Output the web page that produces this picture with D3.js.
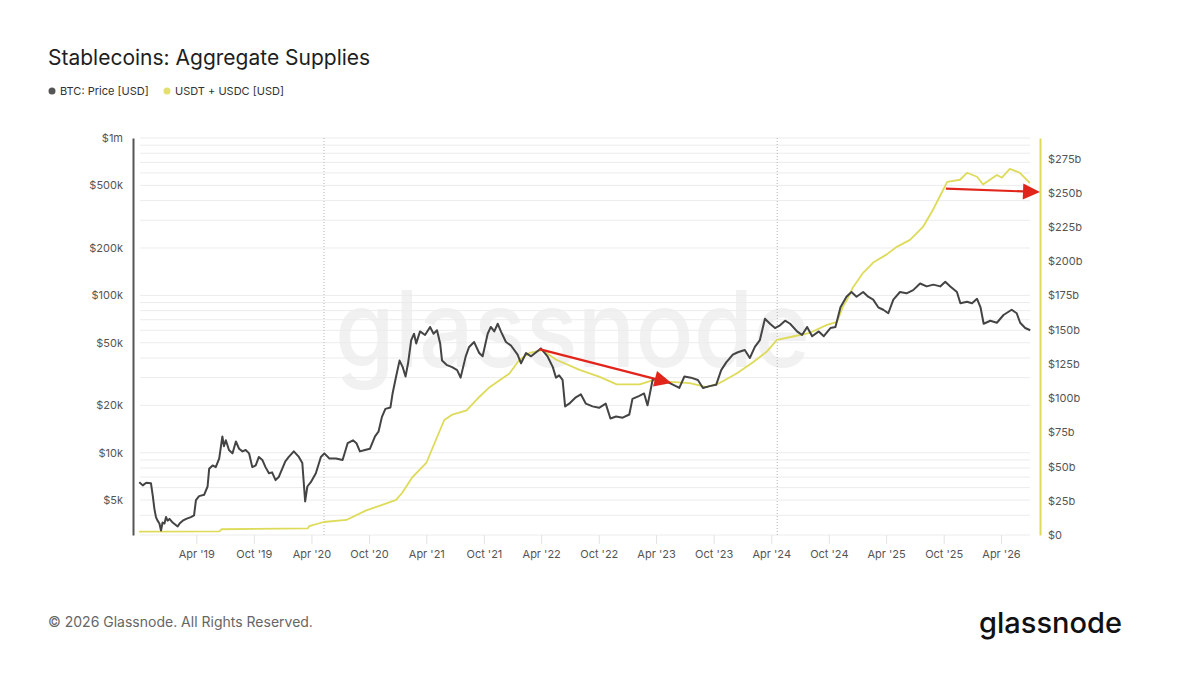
<!DOCTYPE html>
<html>
<head>
<meta charset="utf-8">
<script src="https://cdn.jsdelivr.net/npm/d3@7"></script>
<style>
    body { margin: 0; background: #fff; }
    svg text { font-family: Inter, "Open Sans", sans-serif; }
</style>
</head>
<body>
<div id="canvas"></div>
<script>
"use strict"

// BTC price [USD]
let btcDates = [
    "2018-10-02", "2018-10-13", "2018-10-24", "2018-11-08", "2018-11-14", "2018-11-19", "2018-11-24", "2018-11-29",
    "2018-12-05", "2018-12-10", "2018-12-15", "2018-12-21", "2018-12-26", "2018-12-31", "2019-01-06", "2019-01-16",
    "2019-02-01", "2019-02-07", "2019-02-17", "2019-02-28", "2019-03-15", "2019-03-25", "2019-03-31", "2019-04-10",
    "2019-04-26", "2019-05-07", "2019-05-12", "2019-05-23", "2019-06-02", "2019-06-13", "2019-06-23", "2019-06-28",
    "2019-07-04", "2019-07-14", "2019-07-25", "2019-08-05", "2019-08-15", "2019-08-26", "2019-09-05", "2019-09-16",
    "2019-09-26", "2019-10-07", "2019-10-17", "2019-10-28", "2019-11-07", "2019-11-18", "2019-11-28", "2019-12-09",
    "2019-12-19", "2019-12-30", "2020-01-09", "2020-01-20", "2020-02-05", "2020-02-21", "2020-03-03", "2020-03-12",
    "2020-03-19", "2020-03-30", "2020-04-15", "2020-05-01", "2020-05-12", "2020-05-28", "2020-06-18", "2020-07-09",
    "2020-07-25", "2020-08-11", "2020-08-22", "2020-09-02", "2020-09-18", "2020-10-04", "2020-10-20", "2020-10-31",
    "2020-11-11", "2020-11-22", "2020-12-08", "2020-12-15", "2020-12-26", "2021-01-06", "2021-01-16", "2021-01-25",
    "2021-02-02", "2021-02-12", "2021-02-21", "2021-02-28", "2021-03-12", "2021-03-28", "2021-04-13", "2021-04-24",
    "2021-05-05", "2021-05-15", "2021-05-21", "2021-06-06", "2021-06-22", "2021-07-08", "2021-07-19", "2021-08-04",
    "2021-08-15", "2021-08-31", "2021-09-16", "2021-09-27", "2021-10-13", "2021-10-23", "2021-11-03", "2021-11-14",
    "2021-11-24", "2021-12-10", "2021-12-26", "2022-01-16", "2022-01-27", "2022-02-12", "2022-02-28", "2022-03-31",
    "2022-04-21", "2022-05-08", "2022-05-18", "2022-05-28", "2022-06-08", "2022-06-16", "2022-06-29", "2022-07-20",
    "2022-08-05", "2022-08-21", "2022-09-11", "2022-10-02", "2022-10-23", "2022-11-07", "2022-11-25", "2022-12-16",
    "2023-01-06", "2023-01-16", "2023-02-07", "2023-02-22", "2023-03-05", "2023-03-21", "2023-04-11", "2023-05-02",
    "2023-06-03", "2023-06-14", "2023-06-30", "2023-07-21", "2023-08-12", "2023-08-28", "2023-09-18", "2023-10-09",
    "2023-10-25", "2023-11-10", "2023-12-01", "2023-12-17", "2024-01-08", "2024-01-24", "2024-02-09", "2024-02-25",
    "2024-03-12", "2024-03-28", "2024-04-13", "2024-04-29", "2024-05-15", "2024-05-31", "2024-06-22", "2024-07-08",
    "2024-07-24", "2024-08-09", "2024-08-30", "2024-09-15", "2024-10-06", "2024-10-22", "2024-11-07", "2024-11-26",
    "2024-12-12", "2024-12-28", "2025-01-18", "2025-02-03", "2025-02-19", "2025-03-07", "2025-03-23", "2025-04-08",
    "2025-04-24", "2025-05-15", "2025-06-05", "2025-06-26", "2025-07-18", "2025-08-08", "2025-08-29", "2025-09-20",
    "2025-10-06", "2025-10-22", "2025-11-12", "2025-11-23", "2025-12-14", "2025-12-30", "2026-01-15", "2026-01-26",
    "2026-02-05", "2026-02-26", "2026-03-19", "2026-04-09", "2026-05-05", "2026-05-21", "2026-06-01", "2026-06-17",
    "2026-07-03"]
let btcPrices = [
    6500, 6200, 6450, 6400, 5300, 4400, 3900, 3700,
    3550, 3200, 3600, 3550, 3900, 3700, 3800, 3600,
    3400, 3550, 3700, 3800, 3900, 4000, 5000, 5300,
    5400, 6100, 7900, 8300, 8100, 9200, 12700, 11000,
    12000, 10400, 9900, 11800, 10600, 10200, 10400, 9900,
    8100, 8300, 9400, 9000, 8100, 7400, 7500, 6700,
    7000, 7900, 8800, 9400, 10200, 9400, 8600, 4900,
    6100, 6500, 7400, 9400, 9900, 9200, 9200, 9000,
    11500, 12000, 11500, 10200, 10400, 10600, 12700, 13600,
    16900, 19000, 19400, 23900, 30500, 38500, 35000, 30500,
    37000, 52000, 57000, 49500, 59000, 56000, 63000, 57000,
    60000, 49500, 38500, 36000, 35000, 33500, 30000, 40800,
    47000, 50500, 43000, 41000, 57000, 63000, 59000, 66000,
    59000, 50500, 48000, 42000, 37000, 43000, 41000, 46000,
    41000, 35000, 30000, 31000, 29000, 19700, 20500, 22500,
    23500, 20500, 19700, 19300, 20500, 16500, 17000, 16700,
    17500, 22000, 23000, 23800, 20000, 29000, 30000, 28500,
    26500, 25800, 30500, 30000, 29000, 25800, 26500, 27000,
    33500, 37500, 42000, 43500, 45000, 40000, 47000, 52000,
    71000, 66000, 62000, 64500, 69000, 66000, 59000, 56000,
    63000, 55000, 59000, 55000, 62000, 63000, 84000, 98000,
    105000, 98000, 105000, 98000, 94000, 84000, 81000, 77000,
    94000, 105000, 103000, 108000, 119000, 114000, 117000, 114000,
    122000, 114000, 105000, 89000, 91000, 89000, 95000, 84000,
    66000, 69000, 67000, 75000, 81000, 77000, 67000, 62000,
    60000]

// USDT + USDC supply [USD, billions]
let stableDates = ["2018-10-01", "2019-06-14", "2019-06-20", "2020-03-20", "2020-03-25", "2020-05-10", "2020-07-21",
    "2020-09-22", "2020-11-12", "2020-12-26", "2021-01-14", "2021-02-15", "2021-04-01", "2021-04-27", "2021-05-28",
    "2021-06-23", "2021-08-07", "2021-09-17", "2021-10-19", "2021-11-20", "2021-12-21", "2022-01-22", "2022-02-23",
    "2022-04-05", "2022-05-19", "2022-08-01", "2022-10-04", "2022-11-27", "2023-02-08", "2023-03-20", "2023-05-04",
    "2023-07-17", "2023-09-09", "2023-10-20", "2023-12-13", "2024-02-02", "2024-03-18", "2024-04-19", "2024-06-09",
    "2024-08-02", "2024-09-25", "2024-10-27", "2024-11-15", "2024-11-28", "2024-12-17", "2025-01-18", "2025-02-19",
    "2025-04-03", "2025-05-05", "2025-06-16", "2025-07-27", "2025-08-28", "2025-09-29", "2025-10-12", "2025-11-22",
    "2025-12-14", "2026-01-15", "2026-02-03", "2026-03-19", "2026-04-04", "2026-04-29", "2026-05-31", "2026-07-02"]
let stableSupply = [2.5, 2.6, 4.2, 4.8, 6.5, 9.5, 11,
    18, 22, 25.6, 30.7, 42, 52.6, 67, 84,
    88, 91, 101, 108, 113, 118, 128, 133,
    135, 128, 120.6, 115.5, 110, 110, 113, 112,
    111, 108, 111, 118, 126, 134, 142.5, 145,
    147.7, 153.5, 155.7, 167, 172, 181, 191.5, 199,
    205, 210.5, 215.6, 225, 237.6, 252, 258, 259.5,
    264.6, 261.7, 256, 263, 261, 267.5, 264.6, 257]

let halvingDates = ["2020-05-11", "2024-04-20"]
let xTickDates = ["2019-04-01", "2019-10-01", "2020-04-01", "2020-10-01", "2021-04-01", "2021-10-01", "2022-04-01",
    "2022-10-01", "2023-04-01", "2023-10-01", "2024-04-01", "2024-10-01", "2025-04-01", "2025-10-01", "2026-04-01"]
let leftTicks = [5000, 10000, 20000, 50000, 100000, 200000, 500000, 1000000]
let leftTickLabels = ["$5k", "$10k", "$20k", "$50k", "$100k", "$200k", "$500k", "$1m"]
let rightTicks = [0, 25, 50, 75, 100, 125, 150, 175, 200, 225, 250, 275]

// annotation arrows: [date, value] pairs (left scale for BTC arrow, right scale for supply arrow)
let btcArrow = [["2022-03-26", 45500], ["2023-05-20", 27700]]
let supplyArrow = [["2025-10-08", 253], ["2026-08-03", 250.5]]

let svgWidth = 1200
let svgHeight = 676

let plot = { left: 133, right: 1040, top: 138, bottom: 535 }

let btcColor = "#444444"
let stableColor = "#dedb5a"
let arrowColor = "#e2251b"

let parse = d3.timeParse("%Y-%m-%d")

let svg = d3.select("#canvas")
    .append("svg")
    .attr("width", svgWidth)
    .attr("height", svgHeight)

let xScale = d3.scaleTime()
    .domain([parse("2018-09-12"), parse("2026-08-03")])
    .range([plot.left, plot.right])

let yLeft = d3.scaleLog()
    .domain([3000, 1000000])
    .range([plot.bottom, plot.top])

let yRight = d3.scaleLinear()
    .domain([0, 290])
    .range([plot.bottom, plot.top])

let btcData = btcDates.map(function (d, i) {
    return { date: parse(d), value: btcPrices[i] }
})
let stableData = stableDates.map(function (d, i) {
    return { date: parse(d), value: stableSupply[i] }
})

// watermark
svg.append("text")
    .attr("x", 335)
    .attr("y", 367)
    .attr("textLength", 475)
    .attr("lengthAdjust", "spacingAndGlyphs")
    .attr("font-size", 106)
    .attr("font-weight", 500)
    .attr("fill", "#f1f1f1")
    .text("glassnode")

// log gridlines (every 1..9 multiple)
let gridValues = []
for (let p = 3; p <= 5; p++) {
    for (let m = 1; m <= 9; m++) {
        let v = m * Math.pow(10, p)
        if (v >= 3000) gridValues.push(v)
    }
}
gridValues.push(1000000)

svg.append("g")
    .selectAll("line")
    .data(gridValues)
    .join("line")
    .attr("x1", plot.left + 7)
    .attr("x2", plot.right - 10)
    .attr("y1", function (v) { return yLeft(v) })
    .attr("y2", function (v) { return yLeft(v) })
    .attr("stroke", "#ececec")
    .attr("stroke-width", 1)

// halving markers
svg.append("g")
    .selectAll("line")
    .data(halvingDates)
    .join("line")
    .attr("x1", function (d) { return xScale(parse(d)) })
    .attr("x2", function (d) { return xScale(parse(d)) })
    .attr("y1", plot.top)
    .attr("y2", plot.bottom)
    .attr("stroke", "#b5b5b5")
    .attr("stroke-width", 1)
    .attr("stroke-dasharray", "1,2")

// x axis
let xAxis = svg.append("g")
    .attr("transform", `translate(0, ${plot.bottom})`)
    .call(d3.axisBottom(xScale)
        .tickValues(xTickDates.map(parse))
        .tickFormat(d3.timeFormat("%b '%y"))
        .tickSize(9)
        .tickPadding(6))
xAxis.select(".domain").remove()
xAxis.selectAll(".tick line").attr("stroke", "#e3e3e3")
xAxis.selectAll(".tick text")
    .attr("fill", "#555")
    .attr("font-size", 11)
    .style("font-family", "Inter, sans-serif")

// left axis
let leftAxis = svg.append("g")
    .attr("transform", `translate(${plot.left}, 0)`)
    .call(d3.axisLeft(yLeft)
        .tickValues(leftTicks)
        .tickFormat(function (v, i) { return leftTickLabels[i] })
        .tickSize(0)
        .tickPadding(10))
leftAxis.select(".domain").attr("stroke", "#555").attr("stroke-width", 2)
leftAxis.selectAll(".tick text")
    .attr("fill", "#555")
    .attr("font-size", 11)
    .style("font-family", "Inter, sans-serif")

// right axis
let rightAxis = svg.append("g")
    .attr("transform", `translate(${plot.right}, 0)`)
    .call(d3.axisRight(yRight)
        .tickValues(rightTicks)
        .tickFormat(function (v) { return v === 0 ? "$0" : "$" + v + "b" })
        .tickSize(0)
        .tickPadding(8))
rightAxis.select(".domain").attr("stroke", stableColor).attr("stroke-width", 2)
rightAxis.selectAll(".tick text")
    .attr("fill", "#555")
    .attr("font-size", 11)
    .style("font-family", "Inter, sans-serif")

// series
let stableLine = d3.line()
    .x(function (d) { return xScale(d.date) })
    .y(function (d) { return yRight(d.value) })

let btcLine = d3.line()
    .x(function (d) { return xScale(d.date) })
    .y(function (d) { return yLeft(d.value) })

svg.append("path")
    .datum(stableData)
    .attr("d", stableLine)
    .attr("fill", "none")
    .attr("stroke", stableColor)
    .attr("stroke-width", 1.8)
    .attr("stroke-linejoin", "round")

svg.append("path")
    .datum(btcData)
    .attr("d", btcLine)
    .attr("fill", "none")
    .attr("stroke", btcColor)
    .attr("stroke-width", 2)
    .attr("stroke-linejoin", "round")

// annotation arrows
function drawArrow(x1, y1, x2, y2) {
    let angle = Math.atan2(y2 - y1, x2 - x1)
    let headLen = 17
    let headHalf = 8
    let bx = x2 - headLen * Math.cos(angle)
    let by = y2 - headLen * Math.sin(angle)
    svg.append("line")
        .attr("x1", x1).attr("y1", y1)
        .attr("x2", bx).attr("y2", by)
        .attr("stroke", arrowColor)
        .attr("stroke-width", 2.2)
    let px = -Math.sin(angle) * headHalf
    let py = Math.cos(angle) * headHalf
    svg.append("path")
        .attr("d", `M${x2},${y2}L${bx + px},${by + py}L${bx - px},${by - py}Z`)
        .attr("fill", arrowColor)
}

drawArrow(xScale(parse(btcArrow[0][0])), yLeft(btcArrow[0][1]),
    xScale(parse(btcArrow[1][0])), yLeft(btcArrow[1][1]))
drawArrow(xScale(parse(supplyArrow[0][0])), yRight(supplyArrow[0][1]),
    xScale(parse(supplyArrow[1][0])), yRight(supplyArrow[1][1]))

// title and legend
svg.append("text")
    .attr("x", 48)
    .attr("y", 65)
    .attr("font-size", 21)
    .attr("fill", "#1e1e1e")
    .text("Stablecoins: Aggregate Supplies")

let legend = [
    { label: "BTC: Price [USD]", color: "#555", x: 52 },
    { label: "USDT + USDC [USD]", color: "#e3e070", x: 167 }
]
let legendG = svg.append("g")
legendG.selectAll("circle")
    .data(legend)
    .join("circle")
    .attr("cx", function (d) { return d.x })
    .attr("cy", 91)
    .attr("r", 3.5)
    .attr("fill", function (d) { return d.color })
legendG.selectAll("text")
    .data(legend)
    .join("text")
    .attr("x", function (d) { return d.x + 8 })
    .attr("y", 95)
    .attr("font-size", 11)
    .attr("fill", "#333")
    .text(function (d) { return d.label })

// footer
svg.append("text")
    .attr("x", 48)
    .attr("y", 627)
    .attr("font-size", 14)
    .attr("fill", "#666")
    .text("© 2026 Glassnode. All Rights Reserved.")

svg.append("text")
    .attr("x", 1122)
    .attr("y", 633)
    .attr("text-anchor", "end")
    .attr("font-size", 29)
    .attr("font-weight", 500)
    .attr("fill", "#111")
    .text("glassnode")
</script>
</body>
</html>
